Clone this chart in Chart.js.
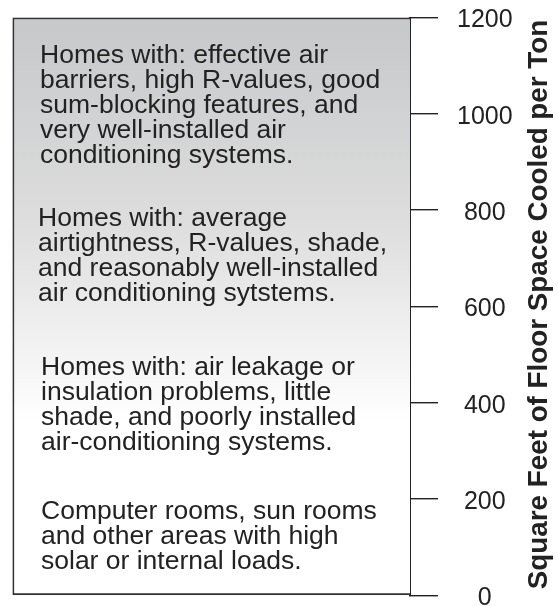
<!DOCTYPE html>
<html>
<head>
<meta charset="utf-8">
<script src="https://cdn.jsdelivr.net/npm/chart.js@4/dist/chart.umd.min.js"></script>
<style>
  html, body { margin: 0; padding: 0; background: #fff; }
  #wrap { width: 558px; height: 606px; }
</style>
</head>
<body>
<div id="wrap"><canvas id="chart" width="558" height="606"></canvas></div>
<script>
/* ---------- data ---------- */
const categories = [''];
const rangeTop = [1200];              // the box spans 0 .. 1200 sq ft / ton
const tickValues = [0, 200, 400, 600, 800, 1000, 1200];
const axisTitle = 'Square Feet of Floor Space Cooled per Ton';

const noteLines = [
    ['Homes with: effective air',
     'barriers, high R-values, good',
     'sum-blocking features, and',
     'very well-installed air',
     'conditioning systems.'],
    ['Homes with: average',
     'airtightness, R-values, shade,',
     'and reasonably well-installed',
     'air conditioning sytstems.'],
    ['Homes with: air leakage or',
     'insulation problems, little',
     'shade, and poorly installed',
     'air-conditioning systems.'],
    ['Computer rooms, sun rooms',
     'and other areas with high',
     'solar or internal loads.']
];

const FONT = '"Liberation Sans", Arial, Helvetica, sans-serif';
const INK = '#222';

/* ---------- plugins ---------- */
// text blocks inside the box, anchored to axis values
const notesPlugin = {
    id: 'notes',
    afterDatasetsDraw(chart, args, opts) {
        const { ctx, scales: { y } } = chart;
        ctx.save();
        ctx.fillStyle = INK;
        ctx.font = `26.5px ${FONT}`;
        ctx.textAlign = 'left';
        ctx.textBaseline = 'alphabetic';
        noteLines.forEach((lines, i) => {
            const a = opts.anchors[i];
            const y0 = y.getPixelForValue(a.value);
            lines.forEach((line, j) => {
                ctx.fillText(line, a.x, y0 + j * opts.lineHeight);
            });
        });
        ctx.restore();
    }
};

// rotated axis title reading bottom-to-top on the right
const titlePlugin = {
    id: 'sideTitle',
    afterDraw(chart, args, opts) {
        const { ctx, chartArea } = chart;
        ctx.save();
        ctx.fillStyle = INK;
        ctx.font = `bold 27.8px ${FONT}`;
        ctx.textAlign = 'center';
        ctx.textBaseline = 'alphabetic';
        ctx.translate(opts.x, (chartArea.top + chartArea.bottom) / 2 - 2);
        ctx.rotate(-Math.PI / 2);
        ctx.fillText(axisTitle, 0, 0);
        ctx.restore();
    }
};

/* ---------- chart ---------- */
const ctx = document.getElementById('chart').getContext('2d');
new Chart(ctx, {
    type: 'bar',
    data: {
        labels: categories,
        datasets: [{
            data: rangeTop,
            backgroundColor: (c) => {
                const area = c.chart.chartArea;
                if (!area) return '#e0e0e0';
                const g = c.chart.ctx.createLinearGradient(0, area.top, 0, area.bottom);
                g.addColorStop(0.00, '#c6c8ca');
                g.addColorStop(0.35, '#dddddd');
                g.addColorStop(0.70, '#ffffff');
                g.addColorStop(1.00, '#ffffff');
                return g;
            },
            borderColor: '#333',
            borderWidth: { top: 2, left: 2, bottom: 2, right: 0 },
            borderSkipped: false,
            barPercentage: 1,
            categoryPercentage: 1
        }]
    },
    options: {
        responsive: false,
        devicePixelRatio: 1,
        animation: false,
        layout: { padding: { left: 12.5, top: 17.5, right: 0, bottom: 10.5 } },
        plugins: {
            legend: { display: false },
            tooltip: { enabled: false },
            notes: {
                lineHeight: 25,
                anchors: [
                    { value: 1106, x: 40 },
                    { value: 767, x: 38 },
                    { value: 457, x: 41 },
                    { value: 159, x: 41 }
                ]
            },
            sideTitle: { x: 547 }
        },
        scales: {
            x: { display: false },
            y: {
                position: 'right',
                min: 0,
                max: 1200,
                afterBuildTicks: (s) => { s.ticks = tickValues.map(v => ({ value: v })); },
                afterFit: (s) => {
                    s.width = 148;
                    s.paddingTop = 0;
                    s.paddingBottom = 0;
                },
                border: { display: true, color: '#222', width: 2 },
                grid: {
                    drawOnChartArea: false,
                    drawTicks: true,
                    tickLength: 28,
                    color: '#222',
                    lineWidth: 1.4
                },
                ticks: {
                    color: INK,
                    font: { family: FONT, size: 25 },
                    padding: 19,
                    crossAlign: 'center',
                    labelOffset: 3,
                    callback: (v) => String(v)
                }
            }
        }
    },
    plugins: [notesPlugin, titlePlugin]
});
</script>
</body>
</html>
